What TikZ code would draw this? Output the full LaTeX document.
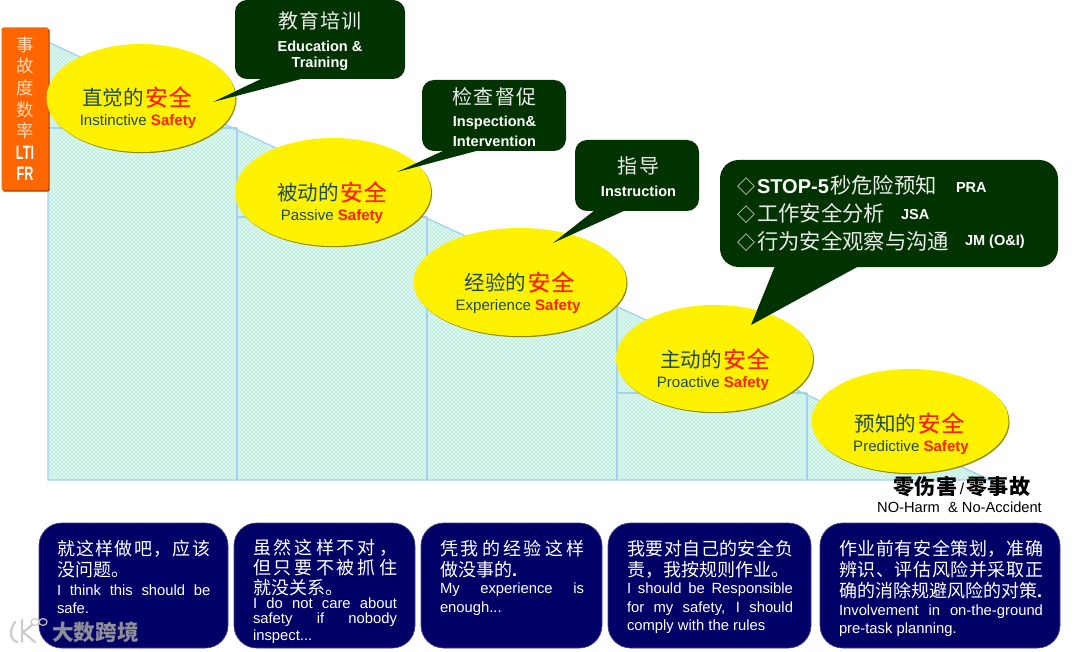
\documentclass[tikz,border=0pt]{standalone}
\usepackage{fontspec}
\setmainfont{Liberation Sans}
\newfontfamily\cjk{Noto Sans CJK SC}
\newfontfamily\cjkm[FakeBold=0.4]{Noto Sans CJK SC}
\usetikzlibrary{shadows,patterns,shapes.geometric}
\definecolor{navyb}{HTML}{000066}
\definecolor{dgreen}{HTML}{003300}
\definecolor{stair}{HTML}{A3D2F0}
\definecolor{stairfill}{HTML}{DAF6EE}
\definecolor{stairdot}{HTML}{7FD8B8}
\definecolor{ink}{HTML}{1F4A50}
\definecolor{redt}{HTML}{FF2200}
\definecolor{orangeb}{HTML}{FF6600}
\definecolor{olive}{HTML}{8C8C00}
\def\u{0.75pt}
\makeatletter
% spread the CJK characters of #2 over the width #1
\newcommand\cjkspread[2]{\hbox to #1{\cjk\@tfor\cs@x:=#2\do{\cs@x\hfil}\unskip}}
\makeatother
\newcommand\enspread[2]{\hbox to #1{\spaceskip=.28em plus 1fil\relax #2}}
\newcommand\zh[1]{{\cjk #1}}
\newcommand\dia{\makebox[15pt][l]{\cjk\fontsize{13.5pt}{13.5pt}\selectfont ◇}}
\tikzset{
  txt/.style={inner sep=0pt,outer sep=0pt,anchor=west},
  ctr/.style={inner sep=0pt,outer sep=0pt,anchor=center},
  cnb/.style={txt,yshift=-.6pt,text=white,font=\fontsize{13.5pt}{13.5pt}\selectfont},
  enb/.style={txt,yshift=-1pt,text=white,font=\fontsize{11.1pt}{11.1pt}\selectfont},
  oval/.style={ellipse,fill=yellow,inner sep=0pt,outer sep=0pt,
    drop shadow={shadow xshift=.8pt,shadow yshift=-.9pt,fill=olive,opacity=1}},
  calloutbox/.style={rectangle,fill=dgreen,rounded corners=9pt,inner sep=0pt,outer sep=0pt},
  navybox/.style={rectangle,fill=navyb,draw=navyb!75!white,line width=.5pt,rounded corners=17pt,inner sep=0pt,outer sep=0pt},
  head/.style={ctr,text=ink,font=\fontsize{15.4pt}{15.4pt}\selectfont},
  sub/.style={ctr,yshift=-1pt,text=ink,font=\fontsize{11.3pt}{11.3pt}\selectfont},
  ctitle/.style={ctr,text=white!92!black,font=\fontsize{15pt}{15pt}\selectfont},
  cen/.style={ctr,yshift=-.8pt,text=white,font=\fontsize{10.9pt}{10.9pt}\bfseries\selectfont},
  axischar/.style={ctr,text=orange!28!white,font=\fontsize{13pt}{13pt}\selectfont\cjk},
  axislatin/.style={ctr,text=white,font=\fontsize{14.6pt}{14.6pt}\bfseries\selectfont},
  stairline/.style={draw=stair,line width=1pt},
}
\newcommand\safe{\textcolor{redt}{\bfseries Safety}}
\newcommand\anq{\hspace{.8pt}\textcolor{redt}{\fontsize{17pt}{17pt}\selectfont\cjkm 安\hspace{.9pt}全}}
\begin{document}
\begin{tikzpicture}[x=0.75pt,y=-0.75pt]
\useasboundingbox (0,0) rectangle (1080,652);
\fill[white] (0,0) rectangle (1080,652);

% staircase
\coordinate (s0) at (48,42);
\coordinate (s1) at (237,128);
\coordinate (s2) at (427,217);
\coordinate (s3) at (617,305);
\coordinate (s4) at (807,393);
\coordinate (s5) at (990,480);
\coordinate (b0) at (48,480);
\coordinate (b1) at (237,480);
\coordinate (b2) at (427,480);
\coordinate (b3) at (617,480);
\coordinate (b4) at (807,480);
\fill[stairfill] (s0) -- (s5) -- (b0) -- cycle;
\fill[pattern=crosshatch dots,pattern color=stairdot] (s0) -- (s5) -- (b0) -- cycle;
\draw[stairline] (s0) -- (s5) -- (b0) -- cycle;
\draw[stairline] (s1) -- (b1) (s2) -- (b2) (s3) -- (b3) (s4) -- (b4);
\draw[stairline] (b0 |- s1) -- (s1) (s1 |- s2) -- (s2) (s2 |- s3) -- (s3) (s3 |- s4) -- (s4);

% orange axis box
\node[rectangle,rounded corners=1.5pt,fill=orangeb,inner sep=0pt,outer sep=0pt,minimum width=47*\u,minimum height=163*\u,
  drop shadow={shadow xshift=.9pt,shadow yshift=-.9pt,fill=orangeb!60!black,opacity=1}] (axis) at (25,109) {};
\foreach \c/\yy/\nm in {事/45/a1,故/66/a2,度/88/a3,数/110/a4,率/131/a5}
  \node[axischar] (\nm) at (25,\yy) {\c};
\node[axislatin] (a6) at (25,153) {\scalebox{.65}[1]{LTI}};
\node[axislatin] (a7) at (25,174) {\scalebox{.65}[1]{FR}};

% ovals
\node[oval,minimum width=189*\u,minimum height=108*\u] (e1) at (141,98) {};
\node[oval,minimum width=196*\u,minimum height=108*\u] (e2) at (333,192) {};
\node[oval,minimum width=213*\u,minimum height=108*\u] (e3) at (520,282) {};
\node[oval,minimum width=197*\u,minimum height=107*\u] (e4) at (714.5,358.5) {};
\node[oval,minimum width=197*\u,minimum height=104*\u] (e5) at (910,421) {};

\node[head] (h1) at (137,97) {\zh{直觉的}\anq};
\node[sub] (u1) at (138,120) {Instinctive \safe};
\node[head] (h2) at (332,192) {\zh{被动的}\anq};
\node[sub] (u2) at (332,215) {Passive \safe};
\node[head] (h3) at (519.5,282) {\zh{经验的}\anq};
\node[sub] (u3) at (518,305) {Experience \safe};
\node[head] (h4) at (715,359) {\zh{主动的}\anq};
\node[sub] (u4) at (713,382) {Proactive \safe};
\node[head] (h5) at (909.5,423) {\zh{预知的}\anq};
\node[sub] (u5) at (911,446) {Predictive \safe};

% callouts
\node[calloutbox,minimum width=170*\u,minimum height=79*\u] (c1) at (320,39.5) {};
\node[calloutbox,minimum width=144*\u,minimum height=71*\u] (c2) at (494,115.5) {};
\node[calloutbox,minimum width=124*\u,minimum height=71*\u] (c3) at (637,175.5) {};
\node[calloutbox,rounded corners=14pt,minimum width=338*\u,minimum height=107*\u] (c4) at (889,213.5) {};
\coordinate (t1) at (213,102);
\coordinate (t2) at (397,172);
\coordinate (t3) at (553,243);
\coordinate (t4) at (751,325);
\fill[dgreen] (263,78) -- (t1) -- (305,78) -- cycle;
\fill[dgreen] (445,150) -- (t2) -- (480,150) -- cycle;
\fill[dgreen] (595,210) -- (t3) -- (626,210) -- cycle;
\fill[dgreen] (775,266) -- (t4) -- (859,266) -- cycle;

\node[ctitle] (c1a) at (320,21) {\cjk 教\hspace{.8pt}育\hspace{.8pt}培\hspace{.8pt}训};
\node[cen] (c1b) at (320,45) {Education \&};
\node[cen] (c1c) at (320,63) {Training};
\node[ctitle] (c2a) at (494.5,97) {\cjk 检\hspace{.8pt}查\hspace{.8pt}督\hspace{.8pt}促};
\node[cen] (c2b) at (494.5,122) {Inspection\&};
\node[cen] (c2c) at (494.5,140) {Intervention};
\node[ctitle] (c3a) at (638.5,166) {\cjk 指\hspace{.8pt}导};
\node[cen] (c3b) at (638.5,190) {Instruction};

\tikzset{cl/.style={txt,yshift=-.7pt,text=white!92!black,font=\fontsize{16pt}{16pt}\selectfont}}
\node[cl] (c4a) at (737,185) {\dia\textcolor{white}{\fontsize{15pt}{15pt}\selectfont\bfseries STOP-5}\hspace{1pt}\zh{秒危险预知}};
\node[cl] (c4b) at (737,212) {\dia\zh{工作安全分析}};
\node[cl] (c4c) at (737,240) {\dia\zh{行为安全观察与沟通}};
\node[cen,anchor=west] (c4d) at (956,186) {PRA};
\node[cen,anchor=west] (c4e) at (901,213) {JSA};
\node[cen,anchor=west] (c4f) at (965,241) {JM (O\&I)};

% zero-harm label
\node[ctr,text=black,font=\fontsize{15.8pt}{15.8pt}\bfseries\selectfont] (z1) at (962,487) {\zh{零伤害}{\mdseries\fontsize{12pt}{12pt}\selectfont\,/\,}\zh{零事故}};
\node[ctr,text=black,font=\fontsize{11pt}{11pt}\selectfont] (z2) at (959.5,507) {NO-Harm\ \ \& No-Accident};

% bottom boxes
\node[navybox,minimum width=189*\u,minimum height=125*\u] (n1) at (133.5,585.5) {};
\node[navybox,minimum width=181*\u,minimum height=125*\u] (n2) at (324.5,585.5) {};
\node[navybox,minimum width=181*\u,minimum height=125*\u] (n3) at (511.5,585.5) {};
\node[navybox,minimum width=203*\u,minimum height=125*\u] (n4) at (709.5,585.5) {};
\node[navybox,minimum width=240*\u,minimum height=125*\u] (n5) at (940,585.5) {};

% box 1
\node[cnb] (l11) at (57,548) {\cjkspread{115pt}{就这样做吧，应该}};
\node[cnb] (l12) at (57,569) {\zh{没问题。}};
\node[enb] (l13) at (57,588.5) {\enspread{115pt}{I think this should be}};
\node[enb] (l14) at (57,607) {safe.};
% box 2
\node[cnb] (l21) at (253,547) {\cjkspread{108pt}{虽然这样不对，}};
\node[cnb] (l22) at (253,567) {\cjkspread{108pt}{但只要不被抓住}};
\node[cnb] (l23) at (253,587) {\zh{就没关系。}};
\node[enb] (l24) at (253,602) {\enspread{108pt}{I do not care about}};
\node[enb] (l25) at (253,618.5) {\enspread{108pt}{safety if nobody}};
\node[enb] (l26) at (253,635) {inspect...};
% box 3
\node[cnb] (l31) at (440,548) {\cjkspread{108pt}{凭我的经验这样}};
\node[cnb] (l32) at (440,569) {\zh{做没事的}\textbf{.}};
\node[enb] (l33) at (440,588.5) {\enspread{108pt}{My experience is}};
\node[enb] (l34) at (440,607) {enough...};
% box 4
\node[cnb] (l41) at (627,548) {\cjkspread{124.5pt}{我要对自己的安全负}};
\node[cnb] (l42) at (627,569.5) {\zh{责，我按规则作业。}};
\node[enb] (l43) at (627,588.5) {\enspread{124.5pt}{I should be Responsible}};
\node[enb] (l44) at (627,607) {\enspread{124.5pt}{for my safety, I should}};
\node[enb] (l45) at (627,625) {comply with the rules};
% box 5
\node[cnb] (l51) at (839,548) {\cjkspread{153pt}{作业前有安全策划，准确}};
\node[cnb] (l52) at (839,569) {\cjkspread{153pt}{辨识、评估风险并采取正}};
\node[cnb] (l53) at (839,590) {\zh{确的消除规避风险的对策}\textbf{.}};
\node[enb] (l54) at (839,610) {\enspread{153pt}{Involvement in on-the-ground}};
\node[enb] (l55) at (839,628.5) {pre-task planning.};

% watermark
\begin{scope}[draw=white!78!black,line width=1.7pt,line cap=round,opacity=.9]
\draw (15,622) .. controls (9,630) and (10,640) .. (17,642);
\draw (22,620) -- (22,642) (22,632) .. controls (27,630) and (31,626) .. (32,625) (24,633) .. controls (28,636) and (31,639) .. (35,642);
\end{scope}
\begin{scope}[draw=white!78!black,line width=1pt,opacity=.9]
\draw (35,622) ellipse[x radius=4,y radius=3.4];
\draw (43,622) ellipse[x radius=4,y radius=3.4];
\end{scope}
\node[ctr,text=white!62!black,opacity=.9,font=\fontsize{16.2pt}{16.2pt}\bfseries\selectfont\cjk] (wm) at (95.5,632.5) {大数跨境};
\end{tikzpicture}
\end{document}
